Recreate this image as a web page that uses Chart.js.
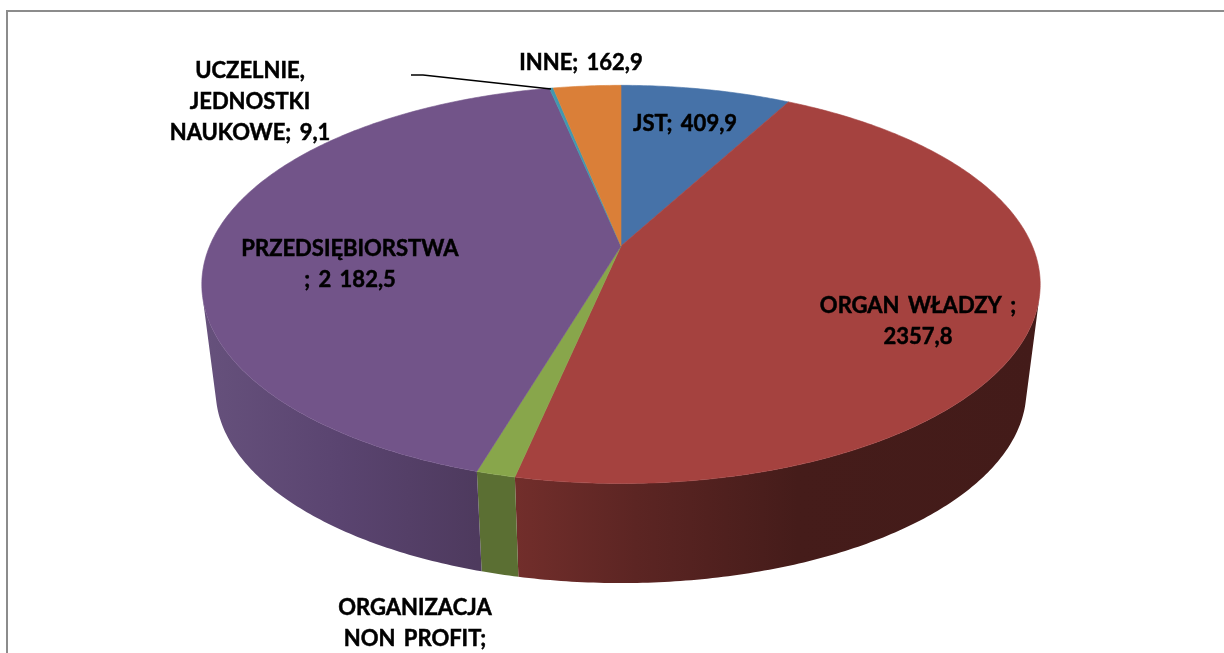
<!DOCTYPE html>
<html>
<head>
<meta charset="utf-8">
<style>
  html, body { margin: 0; padding: 0; background: #fff; overflow: hidden; }
  #wrap { position: relative; width: 1224px; height: 653px; }
</style>
<script src="https://cdn.jsdelivr.net/npm/chart.js@4/dist/chart.umd.js"></script>
</head>
<body>
<div id="wrap"><canvas id="pie3d"></canvas></div>
<script>
// values, organizacja non profit is cut off so it is estimated
const categories = ['JST', 'ORGAN WŁADZY', 'ORGANIZACJA NON PROFIT', 'PRZEDSIĘBIORSTWA', 'UCZELNIE, JEDNOSTKI NAUKOWE', 'INNE'];
const values = [409.9, 2357.8, 65, 2182.5, 9.1, 162.9];
const topColors = ['#4672a8', '#a5423f', '#88a64b', '#725489', '#4198af', '#da7f38'];
// wall shading of each slice, left to right as [offset, colour]
const sideStops = [
  [[0, '#2f4c70'], [1, '#2f4c70']],
  [[0, '#722e2b'], [0.23, '#5c2523'], [0.54, '#451c1a'], [1, '#431b19']],
  [[0, '#5b6f33'], [1, '#5b6f33']],
  [[0, '#66517c'], [0.5, '#5a4470'], [1, '#4e3a5e']],
  [[0, '#2b6675'], [1, '#2b6675']],
  [[0, '#93552a'], [1, '#93552a']]
];
const labelLines = [
  ['JST; 409,9'],
  ['ORGAN WŁADZY ;', '2357,8'],
  ['ORGANIZACJA', 'NON PROFIT;', '65'],
  ['PRZEDSIĘBIORSTWA', '; 2 182,5'],
  ['UCZELNIE,', 'JEDNOSTKI', 'NAUKOWE; 9,1'],
  ['INNE; 162,9']
];
// centre x and first line y of each label
const labelAt = [[685, 124], [918, 306], [415, 608], [350, 249], [250, 71], [581, 63]];
const lineHeight = 31;

// the pie is viewed in perspective, so the disc goes through a small projective map
const zoomX = 1.82;
const squash = 0.466;
const tilt = 0.193;
const wallVanishY = 3500;
const wallScale = 0.967;

function topPoint(arc, angle) {
  const R = arc.outerRadius * zoomX;
  const w = 1 - tilt * Math.sin(angle);
  return {
    x: arc.x + R * Math.cos(angle) / w,
    y: arc.y + R * squash * Math.sin(angle) / w
  };
}

function lowPoint(arc, angle) {
  const p = topPoint(arc, angle);
  return {
    x: arc.x + (p.x - arc.x) * wallScale,
    y: wallVanishY + (p.y - wallVanishY) * wallScale
  };
}

function rim(arc, fn) {
  const pts = [];
  const steps = Math.max(2, Math.ceil((arc.endAngle - arc.startAngle) * 90));
  for (let i = 0; i <= steps; i++) {
    pts.push(fn(arc, arc.startAngle + (arc.endAngle - arc.startAngle) * i / steps));
  }
  return pts;
}

function quadArea(a, b, c, d) {
  const q = [a, b, c, d];
  let sum = 0;
  q.forEach(function (p, i) {
    const n = q[(i + 1) % 4];
    sum += p.x * n.y - n.x * p.y;
  });
  return sum;
}

const pie3dPlugin = {
  id: 'pie3d',
  beforeDatasetDraw(chart, args) {
    const ctx = chart.ctx;
    const arcs = args.meta.data;
    ctx.save();
    // walls first, only the part that faces the viewer
    arcs.forEach(function (arc, i) {
      const upper = rim(arc, topPoint);
      const lower = rim(arc, lowPoint);
      let first = -1;
      let last = -1;
      for (let k = 0; k < upper.length - 1; k++) {
        if (quadArea(upper[k], upper[k + 1], lower[k + 1], lower[k]) < 0) {
          if (first < 0) first = k;
          last = k + 1;
        }
      }
      if (first < 0) return;
      const front = upper.slice(first, last + 1);
      const back = lower.slice(first, last + 1).reverse();
      const xs = front.map(p => p.x);
      const g = ctx.createLinearGradient(Math.min(...xs), 0, Math.max(...xs), 0);
      sideStops[i].forEach(s => g.addColorStop(s[0], s[1]));
      ctx.fillStyle = g;
      ctx.beginPath();
      front.concat(back).forEach(p => ctx.lineTo(p.x, p.y));
      ctx.closePath();
      ctx.fill();
    });
    arcs.forEach(function (arc, i) {
      ctx.fillStyle = topColors[i];
      ctx.strokeStyle = topColors[i];
      ctx.lineWidth = 0.6;
      ctx.beginPath();
      ctx.moveTo(arc.x, arc.y);
      rim(arc, topPoint).forEach(p => ctx.lineTo(p.x, p.y));
      ctx.closePath();
      ctx.fill();
      ctx.stroke();
    });
    ctx.restore();
    return false;
  },
  afterDraw(chart) {
    const ctx = chart.ctx;
    ctx.save();
    // frame, only top and left are inside the crop
    ctx.strokeStyle = '#8c8c8c';
    ctx.lineWidth = 2;
    ctx.beginPath();
    ctx.moveTo(1224, 11);
    ctx.lineTo(7, 11);
    ctx.lineTo(7, 653);
    ctx.stroke();
    // leader line of the small slice
    ctx.strokeStyle = '#000';
    ctx.lineWidth = 1.4;
    ctx.beginPath();
    ctx.moveTo(411, 75);
    ctx.lineTo(423, 75);
    ctx.lineTo(551, 89);
    ctx.stroke();
    ctx.fillStyle = '#000';
    ctx.strokeStyle = '#000';
    ctx.lineWidth = 0.5;
    ctx.font = 'bold 22px Lato';
    ctx.wordSpacing = '3px';
    ctx.textAlign = 'center';
    ctx.textBaseline = 'middle';
    labelLines.forEach(function (lines, i) {
      lines.forEach(function (line, k) {
        const y = labelAt[i][1] + k * lineHeight;
        ctx.fillText(line, labelAt[i][0], y);
        ctx.strokeText(line, labelAt[i][0], y);
      });
    });
    ctx.restore();
  }
};

new Chart(document.getElementById('pie3d'), {
  type: 'pie',
  data: {
    labels: categories,
    datasets: [{ data: values, backgroundColor: topColors, borderWidth: 0 }]
  },
  options: {
    responsive: true,
    maintainAspectRatio: false,
    animation: false,
    layout: { padding: { left: 18, right: 0, top: 20, bottom: 181 } },
    plugins: { legend: { display: false }, tooltip: { enabled: false } }
  },
  plugins: [pie3dPlugin]
});
</script>
</body>
</html>
